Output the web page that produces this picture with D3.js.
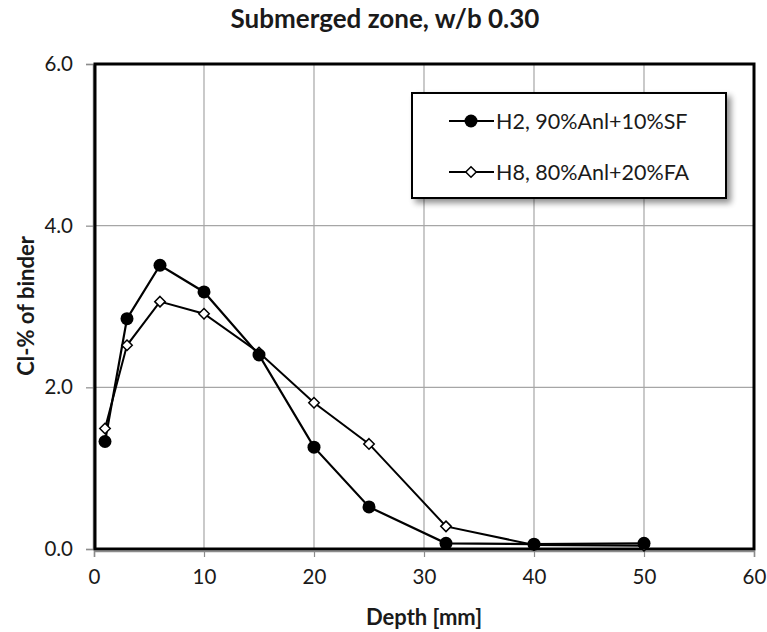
<!DOCTYPE html>
<html>
<head>
<meta charset="utf-8">
<script src="https://cdn.jsdelivr.net/npm/d3@7"></script>
<style>
  body { margin: 0; background: #fff; }
  svg { display: block; }
  text { font-family: Lato, "Open Sans", sans-serif; fill: #1a1a1a; }
</style>
</head>
<body>
<svg id="chart" width="767" height="632"></svg>
<script>
// Chloride profiles, submerged zone, w/b 0.30
const depth = [1, 3, 6, 10, 15, 20, 25, 32, 40, 50];
const h2Values = [1.33, 2.85, 3.51, 3.18, 2.40, 1.26, 0.52, 0.07, 0.06, 0.07];
const h8Values = [1.49, 2.52, 3.06, 2.91, 2.43, 1.81, 1.30, 0.28, 0.05, 0.04];
const seriesNames = ["H2, 90%Anl+10%SF", "H8, 80%Anl+20%FA"];
const xTicks = [0, 10, 20, 30, 40, 50, 60];
const yTicks = [0, 2, 4, 6];

const svg = d3.select("#chart");
const m = { left: 94, right: 13, top: 64, bottom: 83 };
const W = 767, H = 632;

const x = d3.scaleLinear().domain([0, 60]).range([m.left, W - m.right]);
const y = d3.scaleLinear().domain([0, 6]).range([H - m.bottom, m.top]);

const defs = svg.append("defs");
const f = defs.append("filter").attr("id", "shadow").attr("x", "-10%").attr("y", "-10%").attr("width", "130%").attr("height", "140%");
f.append("feGaussianBlur").attr("in", "SourceAlpha").attr("stdDeviation", 3);
f.append("feOffset").attr("dx", 4).attr("dy", 4).attr("result", "ob");
f.append("feComponentTransfer").append("feFuncA").attr("type", "linear").attr("slope", 0.45);
const fm = f.append("feMerge");
fm.append("feMergeNode");
fm.append("feMergeNode").attr("in", "SourceGraphic");

// gridlines
svg.append("g").selectAll("line").data(xTicks.slice(1, -1)).join("line")
  .attr("x1", d => x(d)).attr("x2", d => x(d))
  .attr("y1", y(6)).attr("y2", y(0))
  .attr("stroke", "#a6a6a6").attr("stroke-width", 1.2);
svg.append("g").selectAll("line").data(yTicks.slice(1, -1)).join("line")
  .attr("x1", x(0)).attr("x2", x(60))
  .attr("y1", d => y(d)).attr("y2", d => y(d))
  .attr("stroke", "#a6a6a6").attr("stroke-width", 1.2);

// axes
const xAxis = svg.append("g").attr("transform", `translate(0,${y(0) + 2})`)
  .call(d3.axisBottom(x).tickValues(xTicks).tickFormat(d3.format("d")).tickSize(6).tickPadding(12));
const yAxis = svg.append("g").attr("transform", `translate(${x(0) - 1},0)`)
  .call(d3.axisLeft(y).tickValues(yTicks).tickFormat(d3.format(".1f")).tickSize(7).tickPadding(13));
[xAxis, yAxis].forEach(a => {
  a.select(".domain").attr("stroke", "#8c8c8c").attr("stroke-width", 1.5);
  a.selectAll(".tick line").attr("stroke", "#8c8c8c").attr("stroke-width", 1.2);
  a.selectAll(".tick text").attr("font-size", 20.5).attr("fill", "#222")
    .attr("font-family", "Lato, sans-serif");
});

// plot area frame
svg.append("rect")
  .attr("x", x(0) + 1).attr("y", y(6))
  .attr("width", x(60) - x(0) - 1).attr("height", y(0) - y(6))
  .attr("fill", "none").attr("stroke", "#000").attr("stroke-width", 3);

const line = d3.line().x(d => x(d[0])).y(d => y(d[1]));
const h2 = depth.map((d, i) => [d, h2Values[i]]);
const h8 = depth.map((d, i) => [d, h8Values[i]]);

const diamond = d3.symbol().type(d3.symbolDiamond2).size(70);

// H8 series
svg.append("path").datum(h8).attr("d", line)
  .attr("fill", "none").attr("stroke", "#000").attr("stroke-width", 2);
// H2 series
svg.append("path").datum(h2).attr("d", line)
  .attr("fill", "none").attr("stroke", "#000").attr("stroke-width", 2.2);

svg.append("g").selectAll("path").data(h8).join("path")
  .attr("d", diamond)
  .attr("transform", d => `translate(${x(d[0])},${y(d[1])})`)
  .attr("fill", "#fff").attr("stroke", "#000").attr("stroke-width", 1.5);
svg.append("g").selectAll("circle").data(h2).join("circle")
  .attr("cx", d => x(d[0])).attr("cy", d => y(d[1])).attr("r", 6.5)
  .attr("fill", "#000");

// legend
const lg = svg.append("g").attr("transform", "translate(412,93)");
lg.append("rect").attr("width", 314).attr("height", 105)
  .attr("fill", "#fff").attr("stroke", "#000").attr("stroke-width", 2)
  .attr("filter", "url(#shadow)");
const rows = [{ y: 28, kind: "circle" }, { y: 79, kind: "diamond" }];
rows.forEach((r, i) => {
  lg.append("line").attr("x1", 37).attr("x2", 82).attr("y1", r.y).attr("y2", r.y)
    .attr("stroke", "#000").attr("stroke-width", 2);
  if (r.kind === "circle") {
    lg.append("circle").attr("cx", 59).attr("cy", r.y).attr("r", 6.5).attr("fill", "#000");
  } else {
    lg.append("path").attr("d", diamond).attr("transform", `translate(59,${r.y})`)
      .attr("fill", "#fff").attr("stroke", "#000").attr("stroke-width", 1.5);
  }
  lg.append("text").attr("x", 84).attr("y", r.y).attr("dy", "0.35em")
    .attr("font-size", 21.5).text(seriesNames[i]);
});

// titles
svg.append("text").attr("x", 385).attr("y", 28).attr("text-anchor", "middle")
  .attr("font-size", 26).attr("font-weight", "bold").text("Submerged zone, w/b 0.30");
svg.append("text").attr("x", 424).attr("y", 625).attr("text-anchor", "middle")
  .attr("font-size", 22).attr("font-weight", "bold").text("Depth [mm]");
svg.append("text").attr("transform", "translate(34,306) rotate(-90)").attr("text-anchor", "middle")
  .attr("font-size", 22).attr("font-weight", "bold").text("Cl-% of binder");
</script>
</body>
</html>
